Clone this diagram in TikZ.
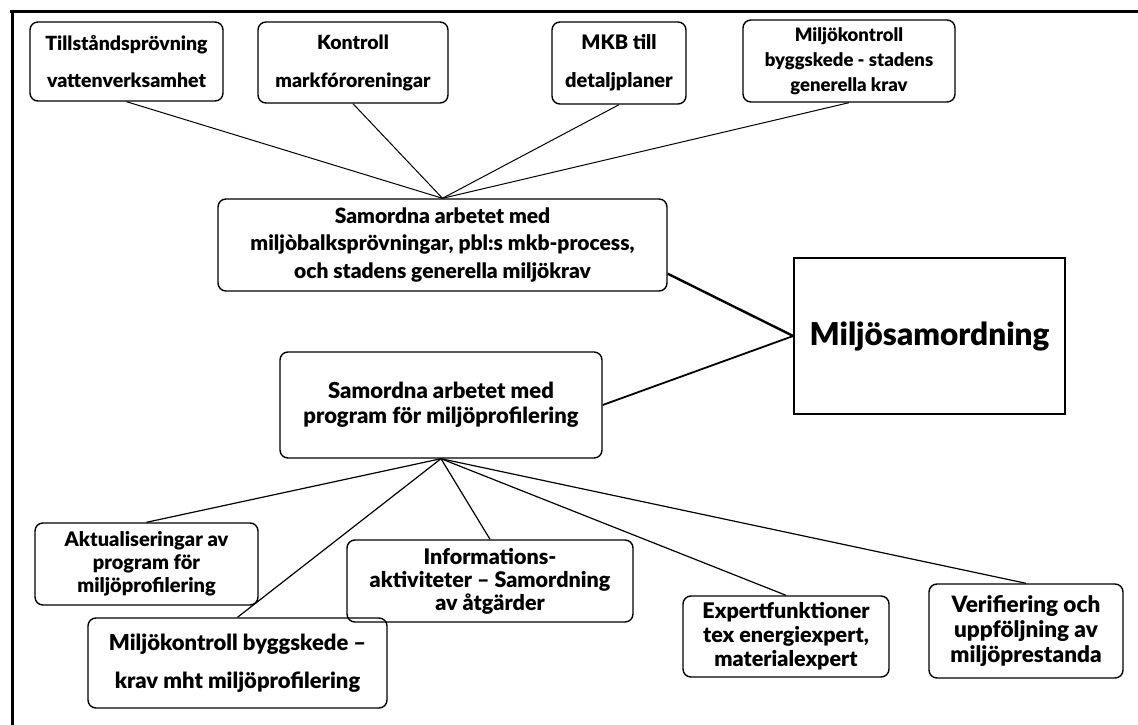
\documentclass[tikz,border=0pt]{standalone}
\usepackage{fontspec}
\setmainfont{Lato}[BoldFont={Lato Black}]
\newcommand{\fs}[2]{\bfseries\fontsize{#1}{#2}\selectfont}
\begin{document}
\begin{tikzpicture}[x=1pt,y=-1pt,
  box/.style={draw,line width=1.4pt,rounded corners=8pt,align=center,inner sep=0pt},
  bigbox/.style={draw,line width=1.6pt,align=center,inner sep=0pt},
  link/.style={line width=1pt},
  frame/.style={line width=3pt}]
\useasboundingbox[fill=white] (0,0) rectangle (1138,725);
\draw[frame] (10,12) -- (1138,12);
\draw[frame] (12,12) -- (12,725);

% top row
\node[box,minimum width=193pt,minimum height=79pt,font=\fs{19.5}{37}] (t1) at (126.5,61.5) {Tillståndsprövning\\vattenverksamhet};
\node[box,minimum width=190pt,minimum height=81pt,font=\fs{19.5}{38}] (t2) at (353,62.5) {Kontroll\\markfóroreningar};
\node[box,minimum width=134pt,minimum height=82pt,font=\fs{20}{38}] (t3) at (619,63) {MKB till\\detaljplaner};
\node[box,minimum width=212pt,minimum height=82pt,font=\fs{18.5}{25}] (t4) at (849,61) {Miljökontroll\\byggskede - stadens\\generella krav};

% middle
\node[box,minimum width=449pt,minimum height=92pt,font=\fs{21}{27.5}] (m1) at (442.5,245) {Samordna arbetet med\\miljòbalksprövningar, pbl:s mkb-process,\\och stadens generella miljökrav};
\node[box,minimum width=322pt,minimum height=106pt,font=\fs{22}{25}] (m2) at (441,405) {Samordna arbetet med\\program för miljöprofilering};
\node[bigbox,minimum width=271pt,minimum height=156pt,font=\fs{31.5}{34}] (big) at (929.5,336) {Miljösamordning};

% bottom row
\node[box,minimum width=223pt,minimum height=82pt,font=\fs{20}{23}] (b1) at (146.5,564) {Aktualiseringar av\\program för\\miljöprofilering};
\node[box,minimum width=299pt,minimum height=90pt,font=\fs{22}{38}] (b2) at (237.5,663) {Miljökontroll byggskede –\\krav mht miljöprofilering};
\node[box,minimum width=286pt,minimum height=82pt,font=\fs{21.5}{23}] (b3) at (490,581) {Informations-\\aktiviteter – Samordning\\av åtgärder};
\node[box,minimum width=206pt,minimum height=81pt,font=\fs{21.5}{24}] (b4) at (786,636.5) {Expertfunktioner\\tex energiexpert,\\materialexpert};
\node[box,minimum width=194pt,minimum height=94pt,font=\fs{22.5}{25}] (b5) at (1026,631) {Verifiering och\\uppföljning av\\miljöprestanda};

% connectors
\foreach \n in {t1,t2,t3,t4} \draw[link] (\n.south) -- (m1.north);
\foreach \n in {b1,b2,b3,b4,b5} \draw[link,line width=1.2pt] (m2.south) -- (\n.north);
\draw[line width=2.4pt] ([yshift=18pt]m1.south east) -- (big.west);
\draw[line width=1.8pt] (m2.east) -- (big.west);
\end{tikzpicture}
\end{document}
